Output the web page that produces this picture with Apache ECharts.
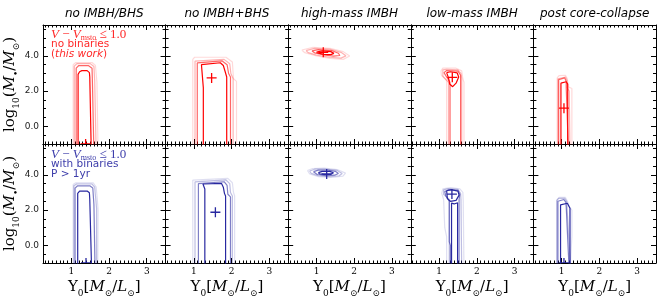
<!DOCTYPE html>
<html><head><meta charset="utf-8">
<script src="https://cdn.jsdelivr.net/npm/echarts@6/dist/echarts.min.js"></script>
<style>html,body{margin:0;padding:0;background:#fff}#c{width:664px;height:306px}</style>
</head><body><div id="c"></div>
<script>
// ---------------- data ----------------
const panelTitles = ['no IMBH/BHS', 'no IMBH+BHS', 'high-mass IMBH', 'low-mass IMBH', 'post core-collapse'];
const xTickLabels = [1, 2, 3];
const yTickLabels = [0, 2, 4];
const xRange = [0.25, 3.5];
const yRange = [-1, 5.75];

// contour levels per panel: [faintest, light, medium, darkest]; each level = list of polylines [[Upsilon0, log10 M]]
const noIMBH_noBin = [
  [[[1.05,-1.5],[1.05,3.5],[1.12,3.62],[1.55,3.62],[1.64,3.45],[1.68,2.5],[1.71,2.4],[1.71,-1.5]]],
  [[[1.08,-1.5],[1.08,3.42],[1.15,3.56],[1.5,3.56],[1.6,3.4],[1.62,2.6],[1.66,2.5],[1.66,-1.5]]],
  [[[1.13,-1.5],[1.13,3.3],[1.2,3.45],[1.45,3.45],[1.55,3.3],[1.56,2.5],[1.6,2.4],[1.6,-1.5]]],
  [[[1.18,-1.5],[1.18,2.95],[1.22,3.1],[1.28,3.16],[1.42,3.16],[1.48,3.05],[1.49,2.8],[1.53,2.7],[1.53,-1.5]]]
];
const noIMBH_bin = [
  [[[1.05,-1.5],[1.05,3.45],[1.12,3.55],[1.58,3.55],[1.66,3.3],[1.69,2.6],[1.71,2.0],[1.7,-1.5]]],
  [[[1.07,-1.5],[1.07,3.38],[1.14,3.48],[1.55,3.48],[1.62,3.3],[1.65,2.6],[1.67,2.1],[1.67,-1.5]]],
  [[[1.1,-1.5],[1.1,3.25],[1.16,3.37],[1.5,3.37],[1.57,3.25],[1.6,2.3],[1.63,2.2],[1.63,-1.5]]],
  [[[1.17,-1.5],[1.17,2.95],[1.22,3.08],[1.42,3.08],[1.48,2.98],[1.49,2.6],[1.54,2.5],[1.54,-1.5]]]
];
const noIMBHBHS_noBin = [
  [[[0.97,-1.5],[0.97,3.8],[1.02,3.92],[1.85,3.92],[2.02,3.65],[2.05,2.7],[2.13,2.55],[2.13,-1.5]]],
  [[[1.03,-1.5],[1.03,3.7],[1.08,3.8],[1.8,3.8],[1.95,3.55],[1.98,3.0],[2.04,2.7],[2.04,-1.5]]],
  [[[1.09,-1.5],[1.09,3.6],[1.14,3.71],[1.75,3.71],[1.88,3.5],[1.92,3.0],[1.97,2.8],[1.97,-1.5]]],
  [[[1.25,-1.5],[1.25,2.2],[1.2,2.3],[1.2,3.5],[1.25,3.61],[1.7,3.61],[1.78,3.45],[1.83,3.1],[1.87,2.8],[1.87,-1.5]]]
];
const noIMBHBHS_bin = [
  [[[0.97,-1.5],[0.97,3.7],[1.02,3.8],[1.9,3.8],[2.02,3.55],[2.05,3.0],[2.08,2.8],[2.08,-1.5]]],
  [[[1.03,-1.5],[1.03,3.6],[1.08,3.71],[1.85,3.71],[1.95,3.5],[1.97,3.0],[2.02,2.8],[2.02,-1.5]]],
  [[[1.12,-1.5],[1.12,3.5],[1.17,3.61],[1.8,3.61],[1.88,3.4],[1.9,2.9],[1.97,2.75],[1.97,-1.5]]],
  [[[1.29,-1.5],[1.29,3.2],[1.24,3.3],[1.24,3.48],[1.28,3.52],[1.73,3.52],[1.78,3.3],[1.81,2.95],[1.84,2.8],[1.84,-1.5]]]
];
const highIMBH_noBin = [
  [[[0.61,4.33],[0.91,4.48],[1.36,4.43],[1.71,4.24],[1.88,3.99],[1.71,3.8],[1.36,3.86],[1.0,3.99],[0.69,4.18],[0.61,4.33]]],
  [[[0.72,4.3],[0.95,4.42],[1.35,4.38],[1.65,4.2],[1.78,4.0],[1.65,3.87],[1.35,3.92],[1.0,4.04],[0.78,4.18],[0.72,4.3]]],
  [[[0.88,4.28],[1.05,4.35],[1.4,4.3],[1.58,4.15],[1.62,4.02],[1.45,3.98],[1.2,4.05],[0.95,4.17],[0.88,4.28]]],
  [[[1.0,4.22],[1.15,4.28],[1.38,4.24],[1.46,4.14],[1.38,4.07],[1.2,4.08],[1.05,4.15],[1.0,4.22]]]
];
const highIMBH_bin = [
  [[[0.76,4.25],[0.9,4.36],[1.2,4.38],[1.55,4.3],[1.77,4.1],[1.7,3.93],[1.4,3.85],[1.05,3.9],[0.82,4.05],[0.76,4.25]]],
  [[[0.82,4.22],[0.95,4.32],[1.25,4.33],[1.55,4.25],[1.68,4.08],[1.6,3.95],[1.35,3.9],[1.05,3.95],[0.86,4.08],[0.82,4.22]]],
  [[[0.92,4.18],[1.05,4.27],[1.3,4.27],[1.5,4.2],[1.58,4.08],[1.48,3.98],[1.25,3.96],[1.02,4.02],[0.92,4.18]]],
  [[[1.05,4.13],[1.15,4.2],[1.35,4.2],[1.45,4.12],[1.38,4.03],[1.2,4.02],[1.08,4.06],[1.05,4.13]]]
];
const lowIMBH_noBin = [
  [[[1.2,-1.5],[1.2,2.6],[1.06,2.9],[1.05,3.15],[1.1,3.3],[1.45,3.3],[1.6,3.15],[1.63,2.7],[1.66,2.5],[1.66,-1.5]]],
  [[[1.25,-1.5],[1.25,2.5],[1.1,2.85],[1.1,3.2],[1.2,3.24],[1.5,3.2],[1.58,3.0],[1.6,2.7],[1.6,-1.5]]],
  [[[1.29,-1.5],[1.29,2.5],[1.2,2.8],[1.13,3.05],[1.2,3.17],[1.5,3.13],[1.57,2.9],[1.57,-1.5]]],
  [[[1.2,3.05],[1.3,3.1],[1.48,3.03],[1.52,2.8],[1.45,2.45],[1.36,2.25],[1.28,2.4],[1.25,2.75],[1.2,3.05]]]
];
const lowIMBH_bin = [
  [[[1.2,-1.5],[1.2,0.5],[1.15,1.0],[1.12,2.6],[1.07,2.95],[1.1,3.2],[1.3,3.28],[1.55,3.2],[1.63,3.0],[1.64,2.5],[1.66,-1.5]]],
  [[[1.27,-1.5],[1.27,2.6],[1.12,2.9],[1.12,3.15],[1.25,3.22],[1.5,3.18],[1.57,2.95],[1.58,2.6],[1.6,-1.5]]],
  [[[1.3,-1.5],[1.3,0.0],[1.27,0.2],[1.27,2.5],[1.18,2.8],[1.15,3.05],[1.25,3.15],[1.5,3.12],[1.55,2.9],[1.53,2.6],[1.53,-1.5]]],
  [[[1.2,3.1],[1.32,3.16],[1.5,3.08],[1.53,2.85],[1.45,2.55],[1.3,2.5],[1.22,2.65],[1.2,3.1]],
   [[1.33,-1.5],[1.33,2.4],[1.4,2.35],[1.49,2.42],[1.49,-1.5]]]
];
const postCC_noBin = [
  [[[0.88,-1.5],[0.88,2.75],[0.93,2.88],[1.1,2.9],[1.15,2.7],[1.17,2.25],[1.27,2.15],[1.27,-1.5]]],
  [[[0.9,-1.5],[0.9,2.7],[0.95,2.8],[1.1,2.8],[1.14,2.6],[1.14,2.2],[1.2,2.0],[1.22,-1.5]]],
  [[[0.92,-1.5],[0.92,2.65],[0.97,2.75],[1.08,2.75],[1.12,2.55],[1.12,2.2],[1.18,-1.5]]],
  [[[0.98,-1.5],[0.98,2.45],[1.02,2.53],[1.12,2.53],[1.16,2.4],[1.16,-1.5]]]
];
const postCC_bin = [
  [[[0.88,-1.5],[0.88,2.6],[0.93,2.72],[1.1,2.72],[1.15,2.5],[1.2,2.2],[1.27,2.0],[1.27,0.5],[1.22,-1.5]]],
  [[[0.87,-1.5],[0.87,2.55],[0.92,2.67],[1.08,2.67],[1.13,2.5],[1.14,2.2],[1.24,-1.5]]],
  [[[0.9,-1.5],[0.9,2.5],[0.95,2.6],[1.06,2.6],[1.11,2.45],[1.12,2.2],[1.2,-1.5]]],
  [[[0.97,-1.5],[0.97,2.3],[1.02,2.39],[1.15,2.39],[1.2,2.3],[1.22,2.1],[1.22,-1.5]]]
];
const contoursTop = [noIMBH_noBin, noIMBHBHS_noBin, highIMBH_noBin, lowIMBH_noBin, postCC_noBin];
const contoursBottom = [noIMBH_bin, noIMBHBHS_bin, highIMBH_bin, lowIMBH_bin, postCC_bin];

// true (input) values marked with "+"
const trueTop = [[1.38, -1.0], [1.47, 2.75], [1.18, 4.2], [1.35, 2.78], [1.06, 1.03]];
const trueBottom = [[1.39, -1.0], [1.57, 1.88], [1.27, 4.05], [1.34, 2.91], [1.06, -1.0]];

// ---------------- layout / style ----------------
const L0 = 43, PW = 122.6, T0 = 25, PH = 119;
const RED = [255, 0, 0], BLUE = [40, 40, 160];
const alphas = [0.15, 0.3, 0.6, 1.0];
const rgba = (c, a) => `rgba(${c[0]},${c[1]},${c[2]},${a})`;

const xMinor = []; for (let v = 3; v <= 35; v++) xMinor.push(v / 10);
const yMinorTicks = []; for (let v = -1; v <= 11; v++) yMinorTicks.push(v * 0.5);

const serif = 'DejaVu Serif';
const nameRich = {
  n: { fontFamily: serif, fontSize: 15, color: '#000', verticalAlign: 'middle', lineHeight: 22 },
  i: { fontFamily: serif, fontSize: 15, fontStyle: 'italic', color: '#000', verticalAlign: 'middle', lineHeight: 22 },
  s: { fontFamily: serif, fontSize: 9, color: '#000', verticalAlign: 'bottom', lineHeight: 20 }
};
const xName = '{n|Υ}{s|0}{n|[}{i|M}{s|⊙}{n|/}{i|L}{s|⊙}{n|]}';
const yName = '{n|log}{s|10}{n|(}{i|M}{s|•}{n|/}{i|M}{s|⊙}{n|)}';

const grids = [], xAxes = [], yAxes = [], series = [], graphics = [];
const tickLine = { color: '#000', width: 1 };
const axLine = { show: true, onZero: false, lineStyle: tickLine };
const noLine = { show: false, onZero: false };

for (let r = 0; r < 2; r++) {
  for (let c = 0; c < 5; c++) {
    const g = r * 5 + c;
    grids.push({ left: L0 + c * PW, top: T0 + r * PH, width: PW, height: PH });
    const xb = { type: 'value', gridIndex: g, min: xRange[0], max: xRange[1], splitLine: { show: false } };
    const yb = { type: 'value', gridIndex: g, min: yRange[0], max: yRange[1], splitLine: { show: false } };
    // x: bottom major, bottom minor, top major, top minor
    xAxes.push(Object.assign({}, xb, {
      position: 'bottom', axisLine: axLine,
      axisTick: { show: true, inside: true, length: 5, customValues: xTickLabels, lineStyle: tickLine },
      axisLabel: { show: r === 1, customValues: xTickLabels, fontFamily: serif, fontSize: 9, color: '#000', margin: 4 },
      name: r === 1 ? xName : '', nameLocation: 'middle', nameGap: 13,
      nameTextStyle: { rich: nameRich }
    }));
    xAxes.push(Object.assign({}, xb, {
      position: 'bottom', axisLine: noLine,
      axisTick: { show: true, inside: true, length: 2.5, customValues: xMinor, lineStyle: tickLine },
      axisLabel: { show: false }
    }));
    xAxes.push(Object.assign({}, xb, {
      position: 'top', axisLine: axLine,
      axisTick: { show: true, inside: true, length: 5, customValues: xTickLabels, lineStyle: tickLine },
      axisLabel: { show: false }
    }));
    xAxes.push(Object.assign({}, xb, {
      position: 'top', axisLine: noLine,
      axisTick: { show: true, inside: true, length: 2.5, customValues: xMinor, lineStyle: tickLine },
      axisLabel: { show: false }
    }));
    // y: left major, left minor, right major, right minor
    yAxes.push(Object.assign({}, yb, {
      position: 'left', axisLine: axLine,
      axisTick: { show: true, inside: true, length: 5, customValues: yTickLabels, lineStyle: tickLine },
      axisLabel: { show: c === 0, customValues: yTickLabels, formatter: v => Number(v).toFixed(1),
        fontFamily: 'DejaVu Sans', fontSize: 9, color: '#222', margin: 4 },
      name: c === 0 ? yName : '', nameLocation: 'middle', nameRotate: 90, nameGap: 20,
      nameTextStyle: { rich: nameRich }
    }));
    yAxes.push(Object.assign({}, yb, {
      position: 'left', axisLine: noLine,
      axisTick: { show: true, inside: true, length: 3, customValues: yMinorTicks, lineStyle: tickLine },
      axisLabel: { show: false }
    }));
    yAxes.push(Object.assign({}, yb, {
      position: 'right', axisLine: axLine,
      axisTick: { show: true, inside: true, length: 5, customValues: yTickLabels, lineStyle: tickLine },
      axisLabel: { show: false }
    }));
    yAxes.push(Object.assign({}, yb, {
      position: 'right', axisLine: noLine,
      axisTick: { show: true, inside: true, length: 3, customValues: yMinorTicks, lineStyle: tickLine },
      axisLabel: { show: false }
    }));

    const col = r === 0 ? RED : BLUE;
    const levels = (r === 0 ? contoursTop : contoursBottom)[c];
    levels.forEach((polys, li) => {
      polys.forEach(pts => {
        series.push({
          type: 'line', xAxisIndex: 4 * g, yAxisIndex: 4 * g, data: pts,
          showSymbol: false, symbol: 'none', clip: true, silent: true,
          lineStyle: { color: rgba(col, alphas[li]), width: 1.2 }, z: 2 + li
        });
      });
    });
    const mk = (r === 0 ? trueTop : trueBottom)[c];
    series.push({
      type: 'custom', xAxisIndex: 4 * g, yAxisIndex: 4 * g, data: [mk], clip: true, z: 10, silent: true,
      renderItem: (params, api) => {
        const p = api.coord([api.value(0), api.value(1)]);
        const cs = params.coordSys;
        const st = { stroke: rgba(col, 1), lineWidth: 1.3 };
        return {
          type: 'group',
          clipPath: { type: 'rect', shape: { x: cs.x, y: cs.y, width: cs.width, height: cs.height } },
          children: [
            { type: 'line', shape: { x1: p[0] - 5, y1: p[1], x2: p[0] + 5, y2: p[1] }, style: st },
            { type: 'line', shape: { x1: p[0], y1: p[1] - 5, x2: p[0], y2: p[1] + 5 }, style: st }
          ]
        };
      }
    });
  }
}

// panel titles
panelTitles.forEach((t, c) => {
  graphics.push({ type: 'text', x: L0 + c * PW + PW / 2, y: 14, silent: true,
    style: { text: t, fill: '#000', font: 'italic 12px "DejaVu Sans"', textAlign: 'center', textVerticalAlign: 'middle' } });
});
// legend-like annotations
const annRich = (color) => ({
  i: { fontFamily: 'Liberation Serif', fontStyle: 'italic', fontSize: 13, fill: color, lineHeight: 14, verticalAlign: 'middle' },
  n: { fontFamily: 'Liberation Serif', fontSize: 13, fill: color, lineHeight: 14, verticalAlign: 'middle' },
  s: { fontFamily: 'Liberation Serif', fontSize: 8, fill: color, lineHeight: 14, verticalAlign: 'bottom' }
});
function annotate(y0, color, line2, line3rich) {
  graphics.push({ type: 'text', x: 51, y: y0, silent: true,
    style: { text: '{i|V}{n| − }{i|V}{s|msto}{n| ≤ 1.0}', fill: color, font: '13px "Liberation Serif"',
      textVerticalAlign: 'middle', rich: annRich(color) } });
  graphics.push({ type: 'text', x: 51, y: y0 + 10, silent: true,
    style: { text: line2, fill: color, font: '10.5px "DejaVu Sans"', textVerticalAlign: 'middle' } });
  graphics.push({ type: 'text', x: 51, y: y0 + 20, silent: true,
    style: { text: line3rich, fill: color, font: '10.5px "DejaVu Sans"', textVerticalAlign: 'middle',
      rich: { it: { fontFamily: 'DejaVu Sans', fontStyle: 'italic', fontSize: 10.5, fill: color } } } });
}
annotate(34.5, 'rgb(255,40,40)', 'no binaries', '({it|this work})');
annotate(154.5, 'rgb(60,60,170)', 'with binaries', 'P > 1yr');

const chart = echarts.init(document.getElementById('c'), null, { renderer: 'canvas' });
chart.setOption({
  animation: false,
  backgroundColor: '#fff',
  grid: grids, xAxis: xAxes, yAxis: yAxes, series: series, graphic: graphics
});
</script></body></html>
